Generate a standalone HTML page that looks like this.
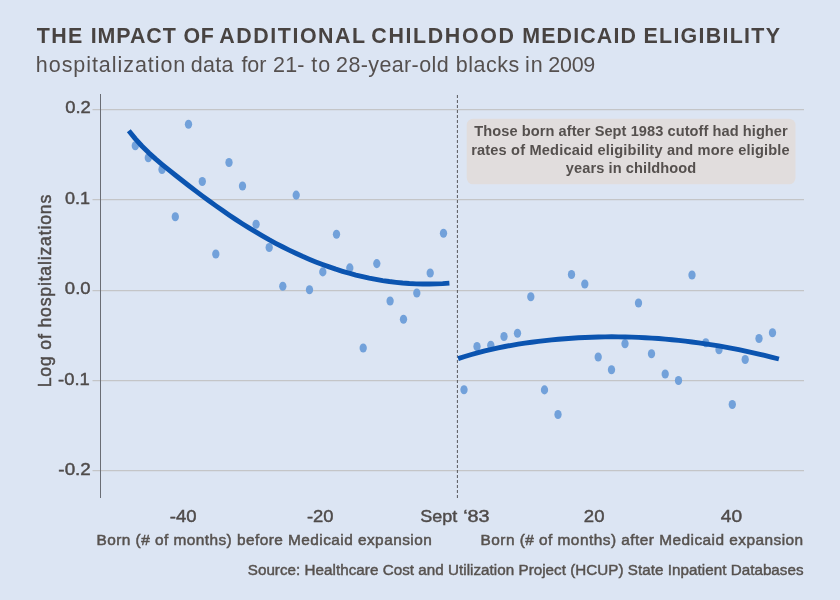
<!DOCTYPE html>
<html lang="en">
<head>
<meta charset="utf-8">
<title>The impact of additional childhood Medicaid eligibility</title>
<style>
html,body{margin:0;padding:0;background:#dce5f3;}
body{width:840px;height:600px;overflow:hidden;font-family:"Liberation Sans",sans-serif;}
svg{display:block;}
svg text{font-family:"Liberation Sans",sans-serif;}
.title{font-weight:bold;font-size:21.4px;fill:#484341;}
.subtitle{font-size:21.5px;fill:#55504f;}
.tick{font-size:16.4px;fill:#4f4b4a;stroke:#4f4b4a;stroke-width:0.42px;}
.axl{font-size:15.4px;fill:#57524f;stroke:#57524f;stroke-width:0.5px;}
.src{font-size:15.2px;fill:#57524f;stroke:#57524f;stroke-width:0.45px;}
.note{font-weight:bold;font-size:14.6px;fill:#55504e;}
.grid line{stroke:#c4c5c7;stroke-width:1.25;}
.dots ellipse{fill:#72a1da;}
.ylog{font-size:17.6px;fill:#4f4b4a;stroke:#4f4b4a;stroke-width:0.45px;}
</style>
</head>
<body>
<svg width="840" height="600" viewBox="0 0 840 600">
<rect x="0" y="0" width="840" height="600" fill="#dce5f3"/>
<text class="title" y="43.3"><tspan x="36.71" textLength="45.64" lengthAdjust="spacing">THE</tspan> <tspan x="90.66" textLength="85.07" lengthAdjust="spacing">IMPACT</tspan> <tspan x="183.46" textLength="30.47" lengthAdjust="spacing">OF</tspan> <tspan x="219.37" textLength="145.41" lengthAdjust="spacing">ADDITIONAL</tspan> <tspan x="371.33" textLength="142.61" lengthAdjust="spacing">CHILDHOOD</tspan> <tspan x="522.19" textLength="113.72" lengthAdjust="spacing">MEDICAID</tspan> <tspan x="643.47" textLength="136.50" lengthAdjust="spacing">ELIGIBILITY</tspan></text>
<text class="subtitle" y="72.2"><tspan x="35.84" textLength="149.44" lengthAdjust="spacing">hospitalization</tspan> <tspan x="190.71" textLength="42.74" lengthAdjust="spacing">data</tspan> <tspan x="241.40" textLength="24.95" lengthAdjust="spacing">for</tspan> <tspan x="273.09" textLength="31.30" lengthAdjust="spacing">21-</tspan> <tspan x="311.30" textLength="18.91" lengthAdjust="spacing">to</tspan> <tspan x="336.09" textLength="112.51" lengthAdjust="spacing">28-year-old</tspan> <tspan x="455.71" textLength="63.49" lengthAdjust="spacing">blacks</tspan> <tspan x="524.88" textLength="17.72" lengthAdjust="spacing">in</tspan> <tspan x="548.31" textLength="46.99" lengthAdjust="spacing">2009</tspan></text>
<g class="grid">
<line x1="92.5" x2="804" y1="109.5" y2="109.5"/>
<line x1="92.5" x2="804" y1="199.5" y2="199.5"/>
<line x1="92.5" x2="804" y1="290.5" y2="290.5"/>
<line x1="92.5" x2="804" y1="380.5" y2="380.5"/>
<line x1="92.5" x2="804" y1="470.5" y2="470.5"/>
</g>
<line x1="100.5" x2="100.5" y1="94" y2="498" stroke="#6a6d74" stroke-width="1"/>
<line x1="457.4" x2="457.4" y1="94.6" y2="498.4" stroke="#58585c" stroke-width="1" stroke-dasharray="3 2" stroke-dashoffset="-0.4"/>
<rect x="466.7" y="118.7" width="328.8" height="65.6" rx="6.5" ry="6.5" fill="#e1dddd"/>
<g>
<text class="note" x="474.33" y="136.4" textLength="313.38" lengthAdjust="spacing">Those born after Sept 1983 cutoff had higher</text>
<text class="note" x="471.14" y="154.8" textLength="318.55" lengthAdjust="spacing">rates of Medicaid eligibility and more eligible</text>
<text class="note" x="565.84" y="173.0" textLength="130.37" lengthAdjust="spacing">years in childhood</text>
</g>
<g class="dots">
<ellipse cx="135.3" cy="145.8" rx="3.65" ry="4.55"/>
<ellipse cx="148.3" cy="157.8" rx="3.65" ry="4.55"/>
<ellipse cx="162.0" cy="169.5" rx="3.65" ry="4.55"/>
<ellipse cx="175.3" cy="216.8" rx="3.65" ry="4.55"/>
<ellipse cx="188.5" cy="124.3" rx="3.65" ry="4.55"/>
<ellipse cx="202.3" cy="181.5" rx="3.65" ry="4.55"/>
<ellipse cx="215.8" cy="254.0" rx="3.65" ry="4.55"/>
<ellipse cx="229.0" cy="162.5" rx="3.65" ry="4.55"/>
<ellipse cx="242.5" cy="186.0" rx="3.65" ry="4.55"/>
<ellipse cx="256.1" cy="224.3" rx="3.65" ry="4.55"/>
<ellipse cx="269.2" cy="247.5" rx="3.65" ry="4.55"/>
<ellipse cx="282.8" cy="286.2" rx="3.65" ry="4.55"/>
<ellipse cx="296.2" cy="195.1" rx="3.65" ry="4.55"/>
<ellipse cx="309.5" cy="289.8" rx="3.65" ry="4.55"/>
<ellipse cx="322.8" cy="271.9" rx="3.65" ry="4.55"/>
<ellipse cx="336.5" cy="234.2" rx="3.65" ry="4.55"/>
<ellipse cx="349.8" cy="267.9" rx="3.65" ry="4.55"/>
<ellipse cx="363.2" cy="348.0" rx="3.65" ry="4.55"/>
<ellipse cx="376.8" cy="263.6" rx="3.65" ry="4.55"/>
<ellipse cx="390.1" cy="301.0" rx="3.65" ry="4.55"/>
<ellipse cx="403.5" cy="319.2" rx="3.65" ry="4.55"/>
<ellipse cx="416.8" cy="293.0" rx="3.65" ry="4.55"/>
<ellipse cx="430.2" cy="273.0" rx="3.65" ry="4.55"/>
<ellipse cx="443.5" cy="233.2" rx="3.65" ry="4.55"/>
<ellipse cx="464.0" cy="389.8" rx="3.65" ry="4.55"/>
<ellipse cx="477.0" cy="346.5" rx="3.65" ry="4.55"/>
<ellipse cx="490.8" cy="345.2" rx="3.65" ry="4.55"/>
<ellipse cx="504.0" cy="336.5" rx="3.65" ry="4.55"/>
<ellipse cx="517.5" cy="333.2" rx="3.65" ry="4.55"/>
<ellipse cx="530.8" cy="296.8" rx="3.65" ry="4.55"/>
<ellipse cx="544.5" cy="389.9" rx="3.65" ry="4.55"/>
<ellipse cx="558.0" cy="414.5" rx="3.65" ry="4.55"/>
<ellipse cx="571.5" cy="274.5" rx="3.65" ry="4.55"/>
<ellipse cx="584.8" cy="284.0" rx="3.65" ry="4.55"/>
<ellipse cx="598.2" cy="357.0" rx="3.65" ry="4.55"/>
<ellipse cx="611.5" cy="369.8" rx="3.65" ry="4.55"/>
<ellipse cx="625.0" cy="343.8" rx="3.65" ry="4.55"/>
<ellipse cx="638.5" cy="303.0" rx="3.65" ry="4.55"/>
<ellipse cx="651.5" cy="353.8" rx="3.65" ry="4.55"/>
<ellipse cx="665.2" cy="374.0" rx="3.65" ry="4.55"/>
<ellipse cx="678.5" cy="380.5" rx="3.65" ry="4.55"/>
<ellipse cx="692.0" cy="275.0" rx="3.65" ry="4.55"/>
<ellipse cx="705.8" cy="342.8" rx="3.65" ry="4.55"/>
<ellipse cx="719.0" cy="349.8" rx="3.65" ry="4.55"/>
<ellipse cx="732.3" cy="404.5" rx="3.65" ry="4.55"/>
<ellipse cx="745.2" cy="359.5" rx="3.65" ry="4.55"/>
<ellipse cx="759.0" cy="338.5" rx="3.65" ry="4.55"/>
<ellipse cx="772.5" cy="332.8" rx="3.65" ry="4.55"/>
</g>
<path d="M128.8 130.66 L135.4 138.89 L142.1 146.23 L148.8 152.85 L155.5 158.90 L162.2 164.55 L168.8 169.95 L175.5 175.27 L182.2 180.52 L188.9 185.71 L195.6 190.83 L202.2 195.86 L208.9 200.79 L215.6 205.62 L222.3 210.33 L229.0 214.92 L235.6 219.38 L242.3 223.71 L249.0 227.90 L255.7 231.96 L262.4 235.88 L269.0 239.66 L275.7 243.29 L282.4 246.78 L289.1 250.12 L295.8 253.31 L302.4 256.35 L309.1 259.23 L315.8 261.95 L322.5 264.52 L329.2 266.93 L335.8 269.19 L342.5 271.29 L349.2 273.23 L355.9 275.01 L362.6 276.63 L369.2 278.10 L375.9 279.40 L382.6 280.55 L389.3 281.53 L396.0 282.35 L402.6 283.02 L409.3 283.52 L416.0 283.86 L422.7 284.04 L429.4 284.05 L436.0 283.90 L442.7 283.59 L449.4 283.11" fill="none" stroke="#0b54b0" stroke-width="4.9" stroke-linejoin="round"/>
<path d="M458.1 358.67 L464.8 356.50 L471.5 354.49 L478.2 352.62 L484.8 350.90 L491.5 349.32 L498.2 347.86 L504.9 346.52 L511.6 345.30 L518.2 344.18 L524.9 343.15 L531.6 342.22 L538.3 341.37 L545.0 340.59 L551.7 339.89 L558.4 339.26 L565.0 338.70 L571.7 338.21 L578.4 337.79 L585.1 337.45 L591.8 337.18 L598.5 336.98 L605.1 336.86 L611.8 336.81 L618.5 336.84 L625.2 336.94 L631.9 337.12 L638.5 337.36 L645.2 337.68 L651.9 338.08 L658.6 338.54 L665.3 339.08 L672.0 339.69 L678.6 340.37 L685.3 341.13 L692.0 341.95 L698.7 342.85 L705.4 343.81 L712.1 344.85 L718.8 345.95 L725.4 347.13 L732.1 348.37 L738.8 349.69 L745.5 351.07 L752.2 352.52 L758.8 354.04 L765.5 355.63 L772.2 357.28 L778.9 359.00" fill="none" stroke="#0b54b0" stroke-width="4.9" stroke-linejoin="round"/>
<g>
<text class="tick" x="65.18" y="113.2" textLength="25.58" lengthAdjust="spacingAndGlyphs">0.2</text>
<text class="tick" x="64.91" y="203.5" textLength="25.07" lengthAdjust="spacingAndGlyphs">0.1</text>
<text class="tick" x="64.86" y="294.2" textLength="25.74" lengthAdjust="spacingAndGlyphs">0.0</text>
<text class="tick" x="58.11" y="384.7" textLength="31.71" lengthAdjust="spacingAndGlyphs">-0.1</text>
<text class="tick" x="58.37" y="474.8" textLength="32.46" lengthAdjust="spacingAndGlyphs">-0.2</text>
</g>
<g>
<text class="tick" x="169.78" y="521.8" textLength="26.78" lengthAdjust="spacingAndGlyphs">-40</text>
<text class="tick" x="306.91" y="521.8" textLength="26.63" lengthAdjust="spacingAndGlyphs">-20</text>
<text class="tick" y="521.8"><tspan x="420.34" textLength="37.02" lengthAdjust="spacingAndGlyphs">Sept</tspan> <tspan x="463.17" textLength="26.48" lengthAdjust="spacingAndGlyphs">‘83</tspan></text>
<text class="tick" x="583.82" y="521.8" textLength="20.64" lengthAdjust="spacingAndGlyphs">20</text>
<text class="tick" x="720.76" y="521.8" textLength="21.28" lengthAdjust="spacingAndGlyphs">40</text>
</g>
<text class="ylog" transform="translate(51.2 291.0) rotate(-90)" text-anchor="middle" textLength="192.5" lengthAdjust="spacing">Log of hospitalizations</text>
<g>
<text class="axl" x="96.52" y="544.7" textLength="335.24" lengthAdjust="spacing">Born (# of months) before Medicaid expansion</text>
<text class="axl" x="480.53" y="544.7" textLength="322.64" lengthAdjust="spacing">Born (# of months) after Medicaid expansion</text>
</g>
<text class="src" x="247.74" y="575.2" textLength="555.81" lengthAdjust="spacing">Source: Healthcare Cost and Utilization Project (HCUP) State Inpatient Databases</text>
</svg>
</body>
</html>
